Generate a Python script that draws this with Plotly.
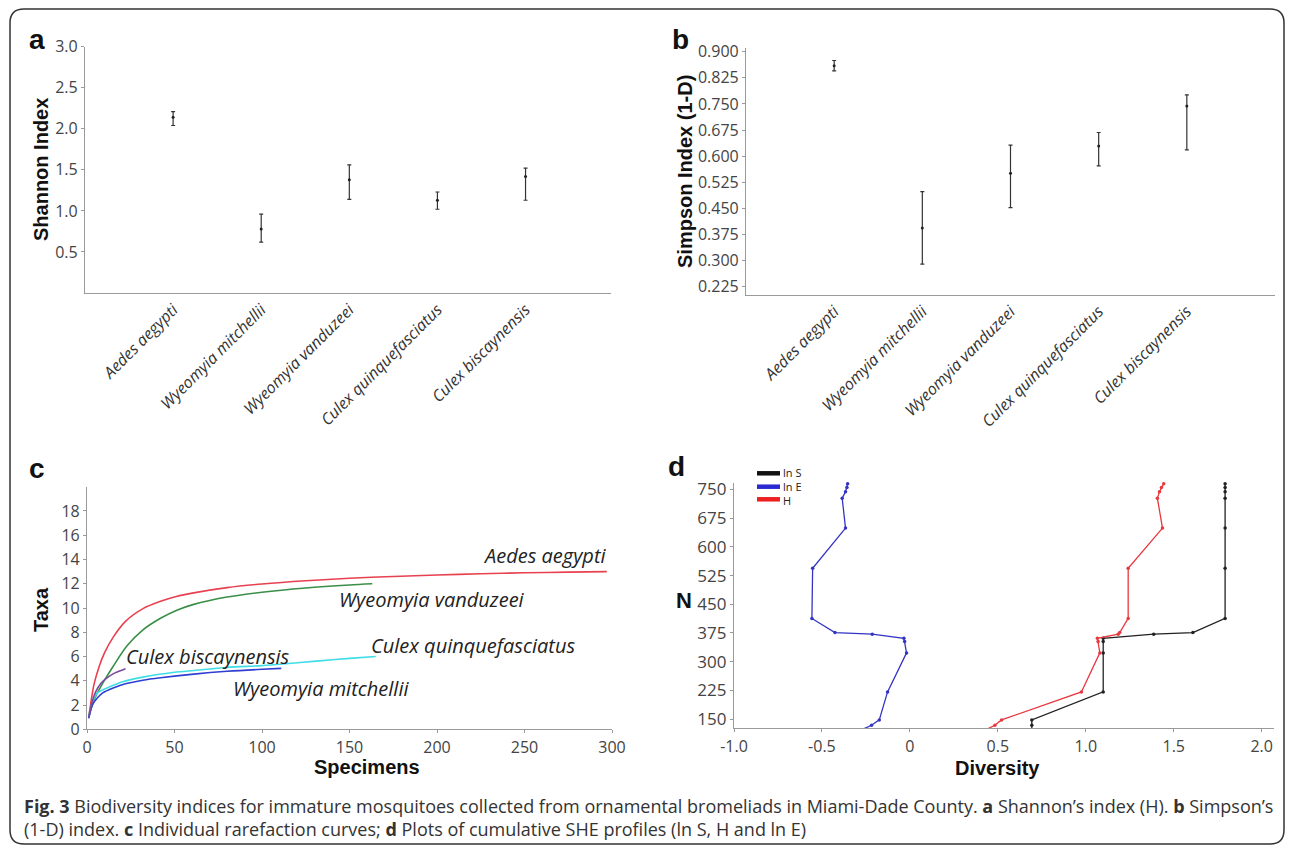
import plotly.graph_objects as go

W, H = 1292, 848

# ---------------- data ----------------
species = ["Aedes aegypti", "Wyeomyia mitchellii", "Wyeomyia vanduzeei",
           "Culex quinquefasciatus", "Culex biscaynensis"]

shannon_mean = [2.14, 0.78, 1.38, 1.13, 1.42]
shannon_low = [2.04, 0.62, 1.14, 1.02, 1.13]
shannon_high = [2.21, 0.96, 1.56, 1.23, 1.52]

simpson_mean = [0.860, 0.394, 0.551, 0.629, 0.744]
simpson_low = [0.845, 0.290, 0.452, 0.572, 0.618]
simpson_high = [0.875, 0.498, 0.632, 0.668, 0.776]

# rarefaction curves (specimens, taxa)
aedes_x = [1, 2, 4, 7, 10, 15, 22, 32, 42, 51, 61, 80, 100, 125, 150, 175, 200, 225, 250, 275, 297]
aedes_y = [1.0, 2.0, 3.7, 5.2, 6.3, 7.6, 8.9, 9.95, 10.55, 10.95, 11.25, 11.68, 11.98, 12.25,
           12.45, 12.6, 12.72, 12.82, 12.9, 12.96, 13.0]
vand_x = [1, 4, 9, 15, 23, 32, 42, 51, 61, 80, 100, 125, 150, 163]
vand_y = [1.0, 2.4, 3.8, 5.2, 6.9, 8.2, 9.15, 9.8, 10.3, 10.9, 11.3, 11.65, 11.9, 12.0]
quinq_x = [1, 3, 6, 13, 20, 32, 50, 61, 80, 100, 112, 131, 150, 165]
quinq_y = [1.0, 2.2, 3.0, 3.5, 3.9, 4.3, 4.7, 4.85, 5.1, 5.25, 5.38, 5.62, 5.85, 6.0]
mitch_x = [1, 3, 6, 9, 15, 22, 32, 42, 61, 80, 100, 111]
mitch_y = [0.9, 2.0, 2.6, 3.0, 3.4, 3.75, 4.05, 4.25, 4.55, 4.78, 4.95, 5.02]
bisc_x = [1, 3, 5, 8, 12, 16, 22]
bisc_y = [1.0, 2.3, 3.1, 3.8, 4.3, 4.65, 5.0]

# SHE profiles (panel d)
she_n = [125, 134, 148, 221, 323, 353, 361, 372, 376, 413, 544, 649, 727, 744, 755, 765]
ln_s = [0.693, 0.693, 0.693, 1.099, 1.099, 1.099, 1.099, 1.386, 1.609, 1.792, 1.792, 1.792,
        1.792, 1.792, 1.792, 1.792]
ln_e = [-0.260, -0.218, -0.174, -0.127, -0.019, -0.030, -0.034, -0.214, -0.426, -0.557, -0.553,
        -0.366, -0.385, -0.366, -0.358, -0.354]
h_div = [0.445, 0.483, 0.521, 0.975, 1.080, 1.070, 1.066, 1.184, 1.193, 1.241, 1.241, 1.436,
         1.407, 1.419, 1.430, 1.443]

she_xticks = [-1.0, -0.5, 0, 0.5, 1.0, 1.5, 2.0]
she_xtext = ["-1.0", "-0.5", "0", "0.5", "1.0", "1.5", "2.0"]

# ---------------- helpers ----------------
def fx(px):
    return px / W


def fy(py):
    return 1 - py / H


TICKFONT = dict(family="Open Sans", size=15, color="#444")
AXCOL = "#9a9a9a"

fig = go.Figure()

# panel a
fig.add_trace(go.Scatter(
    x=species, y=shannon_mean, mode="markers", xaxis="x", yaxis="y",
    marker=dict(color="#222", size=3),
    error_y=dict(type="data", symmetric=False,
                 array=[h - m for h, m in zip(shannon_high, shannon_mean)],
                 arrayminus=[m - l for m, l in zip(shannon_mean, shannon_low)],
                 color="#333", thickness=1.2, width=2),
    showlegend=False))

# panel b
fig.add_trace(go.Scatter(
    x=species, y=simpson_mean, mode="markers", xaxis="x2", yaxis="y2",
    marker=dict(color="#222", size=3),
    error_y=dict(type="data", symmetric=False,
                 array=[h - m for h, m in zip(simpson_high, simpson_mean)],
                 arrayminus=[m - l for m, l in zip(simpson_mean, simpson_low)],
                 color="#333", thickness=1.2, width=2),
    showlegend=False))

# panel c
curves = [
    (aedes_x, aedes_y, "#e8414f"),
    (vand_x, vand_y, "#3a8f48"),
    (quinq_x, quinq_y, "#3fdde6"),
    (mitch_x, mitch_y, "#2f3fd0"),
    (bisc_x, bisc_y, "#7d4a9c"),
]
for cx, cy, col in curves:
    fig.add_trace(go.Scatter(x=cx, y=cy, mode="lines", xaxis="x3", yaxis="y3",
                             line=dict(color=col, width=1.6, shape="spline", smoothing=0.8),
                             showlegend=False))

# panel d
for vals, col in [(ln_s, "#222222"), (ln_e, "#3333c4"), (h_div, "#e8383f")]:
    fig.add_trace(go.Scatter(x=vals, y=she_n, mode="lines+markers", xaxis="x4", yaxis="y4",
                             line=dict(color=col, width=1.3),
                             marker=dict(color=col, size=3.5),
                             cliponaxis=False, showlegend=False))

common = dict(showline=True, linecolor=AXCOL, linewidth=1.2, showgrid=False, zeroline=False,
              tickfont=TICKFONT, ticks="outside", tickcolor=AXCOL, ticklen=3,
              automargin=False)

catfont = dict(family="Open Sans", size=16, color="#333", style="italic")

fig.update_layout(
    width=W, height=H, autosize=False,
    margin=dict(l=0, r=0, t=0, b=0, pad=0, autoexpand=False),
    paper_bgcolor="white", plot_bgcolor="white",
    xaxis=dict(common, domain=[fx(85), fx(611)], anchor="y", type="category",
               range=[-1.0, 4.97], ticks="", tickangle=-45, tickfont=catfont),
    yaxis=dict(common, domain=[fy(293), fy(46.7)], anchor="x", range=[0, 3.0],
               tickvals=[0.5, 1.0, 1.5, 2.0, 2.5, 3.0], tickformat=".1f",
               tickfont=dict(TICKFONT, size=16)),
    xaxis2=dict(common, domain=[fx(746), fx(1275)], anchor="y2", type="category",
                range=[-1.0, 5.0], ticks="", tickangle=-45, tickfont=catfont),
    yaxis2=dict(common, domain=[fy(294.7), fy(48.3)], anchor="x2", range=[0.202, 0.91],
                tickvals=[0.225, 0.300, 0.375, 0.450, 0.525, 0.600, 0.675, 0.750, 0.825, 0.900],
                tickformat=".3f", tickfont=dict(TICKFONT, size=16)),
    xaxis3=dict(common, domain=[fx(87), fx(612)], anchor="y3", range=[0, 300],
                tickvals=[0, 50, 100, 150, 200, 250, 300], tickfont=dict(TICKFONT, size=16)),
    yaxis3=dict(common, domain=[fy(729.3), fy(486.7)], anchor="x3", range=[0, 20],
                tickvals=[0, 2, 4, 6, 8, 10, 12, 14, 16, 18], tickfont=dict(TICKFONT, size=16)),
    xaxis4=dict(common, domain=[fx(734), fx(1274)], anchor="y4", range=[-1.0, 2.07],
                tickvals=she_xticks, ticktext=she_xtext, tickfont=dict(TICKFONT, size=16)),
    yaxis4=dict(common, domain=[fy(728.3), fy(483.3)], anchor="x4", range=[126, 766],
                tickvals=[150, 225, 300, 375, 450, 525, 600, 675, 750],
                tickfont=dict(TICKFONT, size=17)),
)

ann = []
BOLD = "Liberation Sans"


def paper_text(px, py, text, size, family=BOLD, color="#111", angle=0, xanchor="center",
               yanchor="middle", style="normal"):
    ann.append(dict(x=fx(px), y=fy(py), xref="paper", yref="paper", text=text, showarrow=False,
                    font=dict(family=family, size=size, color=color, style=style),
                    textangle=angle, xanchor=xanchor, yanchor=yanchor))


# panel letters
paper_text(37, 40, "<b>a</b>", 28)
paper_text(680, 40, "<b>b</b>", 28)
paper_text(37, 468, "<b>c</b>", 28)
paper_text(676, 466, "<b>d</b>", 28)

# axis titles
paper_text(41, 170, "<b>Shannon Index</b>", 20, angle=-90)
paper_text(685, 172, "<b>Simpson Index (1-D)</b>", 20, angle=-90)
paper_text(41, 610, "<b>Taxa</b>", 20, angle=-90)
paper_text(367, 767, "<b>Specimens</b>", 20)
paper_text(684, 600, "<b>N</b>", 22)
paper_text(997, 768, "<b>Diversity</b>", 20)

# curve labels in panel c (data coords)
curve_labels = [
    (298, 14.3, "Aedes aegypti", "right"),
    (143, 10.7, "Wyeomyia vanduzeei", "left"),
    (161, 6.9, "Culex quinquefasciatus", "left"),
    (21, 6.0, "Culex biscaynensis", "left"),
    (82, 3.4, "Wyeomyia mitchellii", "left"),
]
for lx, ly, lt, xa in curve_labels:
    ann.append(dict(x=lx, y=ly, xref="x3", yref="y3", text=lt, showarrow=False, xanchor=xa,
                    yanchor="middle",
                    font=dict(family="Open Sans", size=20, color="#222", style="italic")))

# legend panel d (manual, squeezed like the original)
shapes = []
leg = [("ln S", "#111111", 473.3), ("ln E", "#2a2ad0", 486.7), ("H", "#ee2020", 499.3)]
for lab, col, ly in leg:
    shapes.append(dict(type="line", xref="paper", yref="paper", x0=fx(757), x1=fx(780),
                       y0=fy(ly), y1=fy(ly), line=dict(color=col, width=4.5)))
paper_text(781, 472.5, "ln S", 11, family="Open Sans", color="#222", xanchor="left")
paper_text(781, 486.5, "ln E", 11, family="Open Sans", color="#222", xanchor="left")
paper_text(781, 500.5, "H", 11, family="Open Sans", color="#222", xanchor="left")

# caption
cap1 = ("<b>Fig. 3</b> Biodiversity indices for immature mosquitoes collected from ornamental "
        "bromeliads in Miami-Dade County. <b>a</b> Shannon’s index (H). <b>b</b> Simpson’s")
cap2 = ("(1-D) index. <b>c</b> Individual rarefaction curves; <b>d</b> Plots of cumulative SHE "
        "profiles (ln S, H and ln E)")
paper_text(22, 806, cap1, 18, family="Open Sans", color="#333", xanchor="left")
paper_text(22, 829, cap2, 18, family="Open Sans", color="#333", xanchor="left")

# rounded border
x0, x1, y0, y1, r = 10, 1284, 9, 844, 14
p = lambda X, Y: f"{fx(X):.5f},{fy(Y):.5f}"
path = (f"M {p(x0 + r, y0)} L {p(x1 - r, y0)} Q {p(x1, y0)} {p(x1, y0 + r)} "
        f"L {p(x1, y1 - r)} Q {p(x1, y1)} {p(x1 - r, y1)} L {p(x0 + r, y1)} "
        f"Q {p(x0, y1)} {p(x0, y1 - r)} L {p(x0, y0 + r)} Q {p(x0, y0)} {p(x0 + r, y0)} Z")
shapes.append(dict(type="path", xref="paper", yref="paper", path=path,
                   line=dict(color="#333", width=1.5)))

fig.update_layout(annotations=ann, shapes=shapes)

fig.write_html("out.html", config={"displayModeBar": False},
               post_script="document.body.style.margin='0';document.body.style.overflow='hidden';")
